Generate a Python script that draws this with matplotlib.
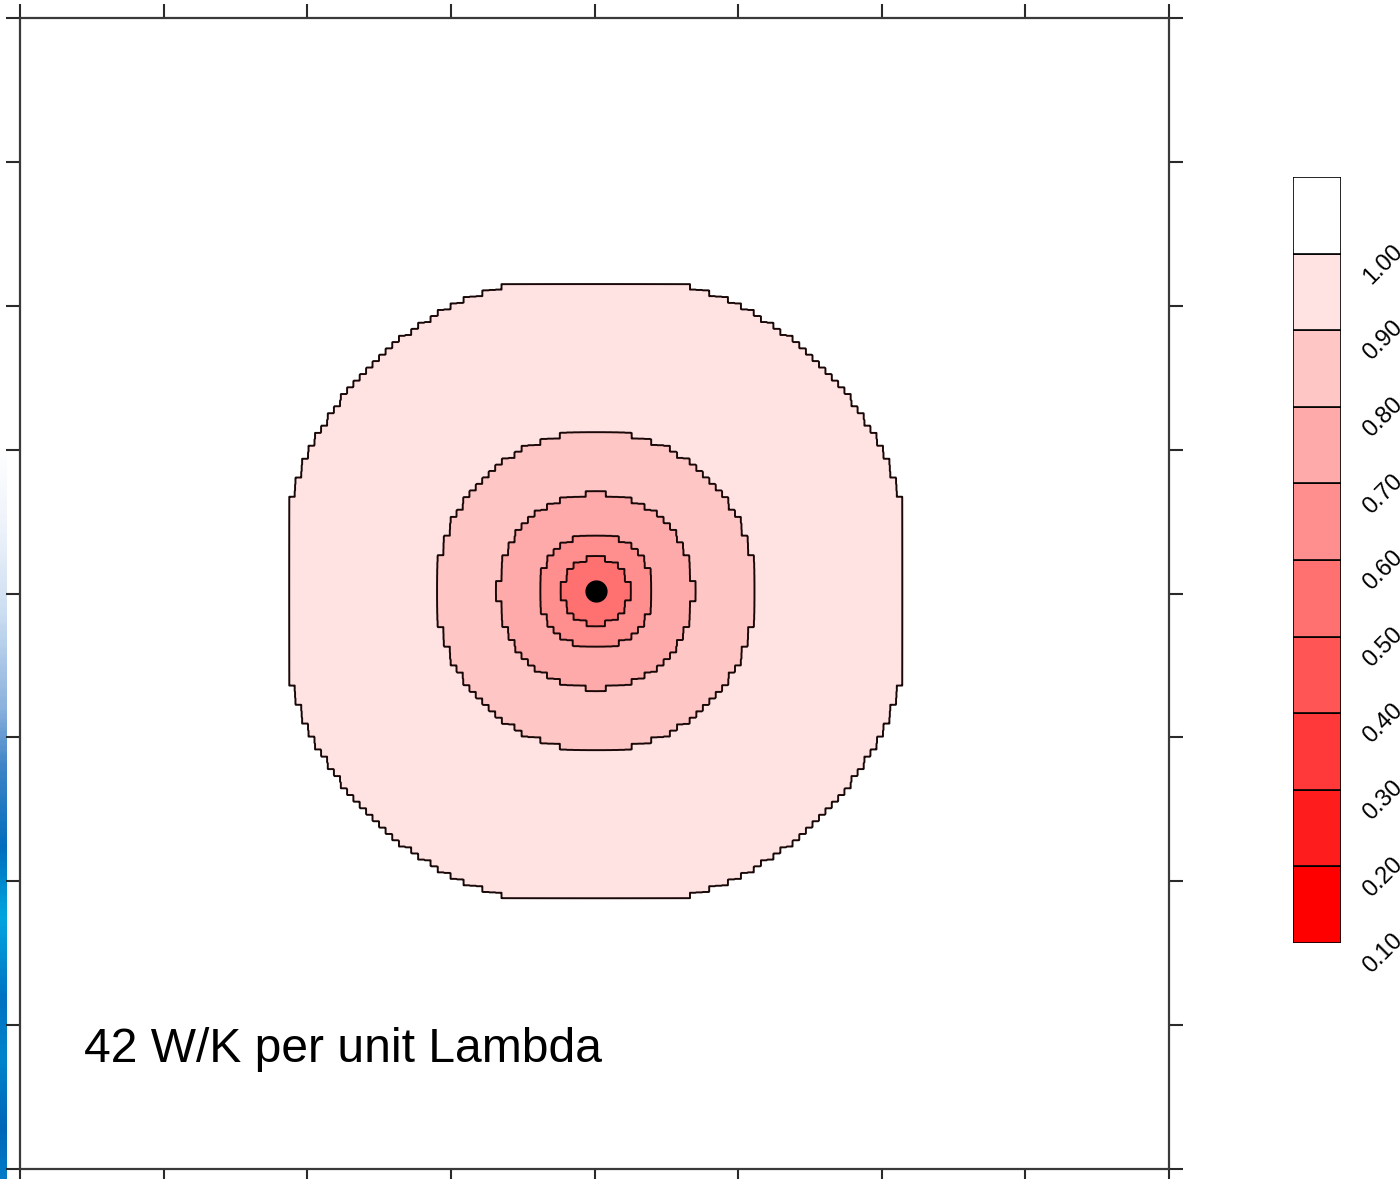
import numpy as np
import matplotlib
matplotlib.use("Agg")
import matplotlib.pyplot as plt
from matplotlib.colors import LinearSegmentedColormap
import matplotlib.transforms as mtransforms

# Contour levels and scale-bar labels
levels = [0.1, 0.2, 0.3, 0.4, 0.5, 0.6, 0.7, 0.8, 0.9, 1.0]
level_labels = ["0.10", "0.20", "0.30", "0.40", "0.50",
                "0.60", "0.70", "0.80", "0.90", "1.00"]

# Radial profile of the normalised field around the source (grid units)
profile_r = [0.0, 0.23, 0.40, 0.68, 1.11, 2.22, 3.20]
profile_v = [0.53, 0.60, 0.70, 0.80, 0.90, 1.00, 1.10]

# Half-width of the computed square domain and source position
domain_half = 2.13
source_xy = (0.012, 0.017)

# Axis ticks (unlabelled)
ticks = [-4, -3, -2, -1, 0, 1, 2, 3, 4]

# Fill colours per band, red -> pale pink, white above 1.0
band_colors = [(1.0, i / 9, i / 9) for i in range(9)]
over_color = "white"

label_text = "42 W/K per unit Lambda"

W, H = 1400, 1179
fig = plt.figure(figsize=(W / 100, H / 100), dpi=100)
fig.patch.set_facecolor("white")

# Slide-edge gradient strip on the far left
strip_stops = [(0.0, (1, 1, 1)), (0.38, (1, 1, 1)), (0.45, (0.93, 0.95, 0.98)),
               (0.52, (0.80, 0.87, 0.95)), (0.60, (0.55, 0.70, 0.87)),
               (0.65, (0.25, 0.52, 0.78)), (0.72, (0.0, 0.43, 0.74)),
               (0.78, (0.0, 0.65, 0.88)), (0.85, (0.0, 0.45, 0.76)),
               (0.90, (0.0, 0.52, 0.80)), (0.96, (0.0, 0.40, 0.72)),
               (1.0, (0.0, 0.48, 0.78))]
strip_cmap = LinearSegmentedColormap.from_list("strip", strip_stops)
sax = fig.add_axes([0, 0, 7 / W, 1])
sax.imshow(np.linspace(0, 1, 400)[:, None], aspect="auto", cmap=strip_cmap,
           extent=[0, 1, 1, 0])
sax.set_axis_off()

# Main contour axes
ax = fig.add_axes([20 / W, 10 / H, (1169 - 20) / W, (1169 - 18) / H])
ax.set_facecolor("white")

h = 0.045          # size of a computation cell
sub = 6            # sampling points per cell
step = h / sub
g = np.arange(-4.0, 4.0 + step / 2, step)
X, Y = np.meshgrid(g, g)
Xq = np.round((X - source_xy[0]) / h) * h
Yq = np.round((Y - source_xy[1]) / h) * h
R = np.hypot(Xq, Yq)
Z = np.interp(R, profile_r, profile_v)
outside = (np.abs(Xq) > domain_half) | (np.abs(Yq) > domain_half)
Z[outside] = profile_v[-1]

fill_levels = levels + [1.2]
ax.contourf(X, Y, Z, levels=fill_levels,
            colors=band_colors + [over_color], antialiased=True)
ax.contour(X, Y, Z, levels=levels, colors="#1a0808", linewidths=1.4)
ax.plot([source_xy[0]], [source_xy[1]], "o", color="black", markersize=15)

ax.set_xlim(-4, 4)
ax.set_ylim(-4, 4)
ax.set_xticks(ticks)
ax.set_yticks(ticks)
ax.tick_params(which="both", direction="out", length=10, width=1.5,
               color="#2a2a2a", top=True, right=True,
               labelbottom=False, labelleft=False,
               labeltop=False, labelright=False)
for sp in ax.spines.values():
    sp.set_color("#3a3a3a")
    sp.set_linewidth(1.6)

fig.text(84 / W, (H - 1062) / H, label_text, fontsize=34.6,
         family="Liberation Sans", color="black", ha="left", va="baseline")

# Scale bar
cax = fig.add_axes([1293 / W, (H - 943) / H, 48 / W, (943 - 177) / H])
for i in range(len(levels) - 1):
    cax.bar(0, levels[i + 1] - levels[i], bottom=levels[i], width=1,
            align="edge", color=band_colors[i], edgecolor="black", linewidth=1.2)
cax.bar(0, 0.1, bottom=levels[-1], width=1, align="edge",
        color=over_color, edgecolor="black", linewidth=1.2)
cax.set_xlim(0, 1)
cax.set_ylim(levels[0], levels[-1] + 0.1)
cax.set_axis_off()
trans = mtransforms.blended_transform_factory(cax.transAxes, cax.transData)
for lv, lab in zip(levels, level_labels):
    cax.text(1.38, lv - 0.014, lab, transform=trans, rotation=45,
             ha="left", va="center", fontsize=17, family="Liberation Sans",
             color="black", clip_on=False)

fig.savefig("out.png", dpi=100, facecolor="white")
